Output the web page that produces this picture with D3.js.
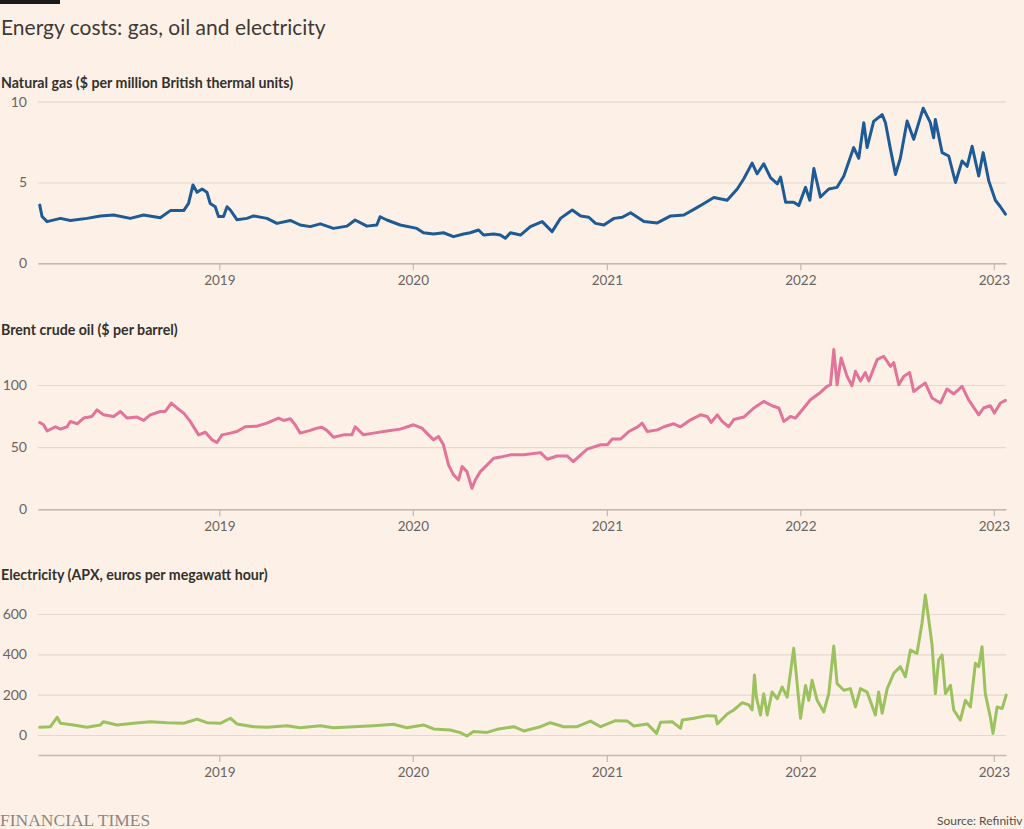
<!DOCTYPE html>
<html>
<head>
<meta charset="utf-8">
<script src="https://cdn.jsdelivr.net/npm/d3@7"></script>
<style>
  html, body { margin: 0; padding: 0; background: #fdf1e7; }
  svg { display: block; }
</style>
</head>
<body>
<svg id="chart" width="1024" height="829"></svg>
<script>
// ---------- DATA (time as decimal year, value) ----------
const title = "Energy costs: gas, oil and electricity";
const panelLabels = [
  "Natural gas ($ per million British thermal units)",
  "Brent crude oil ($ per barrel)",
  "Electricity (APX, euros per megawatt hour)"
];
const yearTicks = [2019, 2020, 2021, 2022, 2023];
const gasTicks = [0, 5, 10];
const oilTicks = [0, 50, 100];
const elecTicks = [0, 200, 400, 600];

const gasSeries = [
[2018.072,3.6],[2018.084,2.9],[2018.110,2.58],[2018.179,2.78],[2018.230,2.65],[2018.316,2.78],[2018.385,2.93],[2018.454,2.99],[2018.540,2.78],[2018.609,2.99],[2018.695,2.82],[2018.747,3.26],[2018.816,3.26],[2018.841,3.71],[2018.864,4.85],[2018.885,4.4],[2018.911,4.6],[2018.936,4.4],[2018.953,3.7],[2018.979,3.5],[2018.996,2.9],[2019.022,2.9],[2019.040,3.5],[2019.057,3.3],[2019.091,2.7],[2019.143,2.78],[2019.177,2.93],[2019.246,2.78],[2019.298,2.47],[2019.367,2.65],[2019.418,2.37],[2019.470,2.27],[2019.522,2.44],[2019.590,2.16],[2019.660,2.3],[2019.702,2.68],[2019.763,2.3],[2019.814,2.37],[2019.831,2.88],[2019.866,2.68],[2019.935,2.37],[2020.021,2.16],[2020.055,1.89],[2020.107,1.81],[2020.158,1.89],[2020.210,1.65],[2020.262,1.81],[2020.296,1.89],[2020.339,2.06],[2020.365,1.75],[2020.417,1.81],[2020.451,1.75],[2020.477,1.55],[2020.503,1.89],[2020.555,1.75],[2020.606,2.27],[2020.667,2.58],[2020.718,1.96],[2020.761,2.78],[2020.822,3.3],[2020.865,2.93],[2020.907,2.85],[2020.942,2.47],[2020.985,2.37],[2021.037,2.78],[2021.080,2.85],[2021.123,3.13],[2021.192,2.58],[2021.261,2.5],[2021.330,2.93],[2021.398,2.99],[2021.450,3.34],[2021.502,3.7],[2021.553,4.07],[2021.622,3.9],[2021.674,4.6],[2021.708,5.23],[2021.751,6.2],[2021.777,5.54],[2021.811,6.16],[2021.846,5.3],[2021.881,4.92],[2021.898,5.33],[2021.924,3.78],[2021.966,3.78],[2021.992,3.57],[2022.027,4.7],[2022.049,3.9],[2022.070,5.86],[2022.104,4.1],[2022.147,4.6],[2022.190,4.7],[2022.225,5.4],[2022.276,7.16],[2022.302,6.5],[2022.328,8.7],[2022.345,7.16],[2022.379,8.78],[2022.423,9.2],[2022.440,8.7],[2022.466,7.05],[2022.492,5.5],[2022.517,6.5],[2022.552,8.8],[2022.586,7.67],[2022.635,9.6],[2022.672,8.7],[2022.689,7.77],[2022.698,8.9],[2022.733,6.85],[2022.767,6.64],[2022.802,5.0],[2022.836,6.33],[2022.862,6.0],[2022.888,7.24],[2022.922,5.4],[2022.945,6.85],[2022.974,5.1],[2023.008,3.9],[2023.034,3.5],[2023.060,3.04]
];

const oilSeries = [
[2018.072,69.8],[2018.092,68],[2018.110,63],[2018.153,66.4],[2018.179,64.5],[2018.213,66.4],[2018.230,70.7],[2018.265,68.8],[2018.299,73.4],[2018.342,74.7],[2018.368,80],[2018.402,76],[2018.454,74.7],[2018.489,78.7],[2018.523,73.4],[2018.575,74.2],[2018.609,71.5],[2018.643,76],[2018.695,78.7],[2018.721,78.7],[2018.752,85.5],[2018.781,81.5],[2018.816,77.4],[2018.850,70.7],[2018.893,59.9],[2018.928,62],[2018.962,55.9],[2018.988,53.7],[2019.014,59.9],[2019.057,61.3],[2019.091,62.6],[2019.134,66.4],[2019.195,66.9],[2019.246,69.3],[2019.306,73.4],[2019.332,71.5],[2019.367,72.8],[2019.392,68],[2019.418,61.3],[2019.470,63.5],[2019.505,65.3],[2019.530,66],[2019.556,63.5],[2019.590,58],[2019.642,59.9],[2019.685,59.9],[2019.702,66.4],[2019.745,59.9],[2019.797,61.3],[2019.866,63],[2019.935,64.5],[2020.004,68],[2020.047,65.3],[2020.081,59.9],[2020.107,55.9],[2020.133,58.5],[2020.158,51.9],[2020.184,35.7],[2020.210,27.7],[2020.236,23.6],[2020.254,34.4],[2020.279,30.3],[2020.305,16.9],[2020.322,23.6],[2020.348,30.3],[2020.383,35.7],[2020.417,41.1],[2020.451,42],[2020.503,43.8],[2020.572,43.8],[2020.658,45.6],[2020.693,40.3],[2020.744,42.9],[2020.796,42.9],[2020.827,38.4],[2020.865,43.8],[2020.899,48.4],[2020.968,51.9],[2021.003,51.9],[2021.028,56.5],[2021.071,56.5],[2021.114,62.6],[2021.157,66.1],[2021.183,69.3],[2021.209,62.6],[2021.261,63.9],[2021.295,66.4],[2021.346,68.8],[2021.381,66.4],[2021.433,72],[2021.484,76],[2021.519,74.7],[2021.539,69.8],[2021.571,76],[2021.596,70.7],[2021.630,66.4],[2021.656,72.2],[2021.708,74.2],[2021.760,81.5],[2021.811,86.8],[2021.854,83.3],[2021.889,81.5],[2021.915,70.7],[2021.949,74.7],[2021.975,73.4],[2022.018,81.5],[2022.052,88.1],[2022.104,94],[2022.138,98.9],[2022.156,100.2],[2022.173,128.5],[2022.190,100.2],[2022.211,121.8],[2022.242,106.9],[2022.267,99.4],[2022.285,111],[2022.311,103.2],[2022.336,110],[2022.354,103.2],[2022.397,120.4],[2022.431,123.1],[2022.466,115],[2022.483,118],[2022.509,100.2],[2022.534,106.9],[2022.565,110],[2022.586,94.8],[2022.621,98.9],[2022.646,101.6],[2022.681,89.5],[2022.724,85.5],[2022.758,96.8],[2022.793,92.8],[2022.836,98.9],[2022.870,88.1],[2022.922,76],[2022.947,81.5],[2022.982,83.3],[2023.003,77.4],[2023.034,85.5],[2023.060,87.6]
];

const elecSeries = [
[2018.072,38],[2018.127,41],[2018.162,88],[2018.179,58],[2018.247,50],[2018.316,38],[2018.385,50],[2018.402,66],[2018.471,50],[2018.557,58],[2018.643,66],[2018.730,61],[2018.816,58],[2018.885,79],[2018.936,61],[2019.005,58],[2019.057,83],[2019.091,55],[2019.177,41],[2019.246,38],[2019.350,46],[2019.418,36],[2019.522,46],[2019.590,36],[2019.693,41],[2019.797,46],[2019.900,53],[2019.969,36],[2020.055,50],[2020.107,30],[2020.193,25],[2020.245,12],[2020.279,-5],[2020.313,17],[2020.383,13],[2020.434,28],[2020.520,41],[2020.572,20],[2020.658,41],[2020.709,61],[2020.778,41],[2020.847,41],[2020.916,69],[2020.968,41],[2021.045,71],[2021.106,69],[2021.140,45],[2021.209,55],[2021.257,8],[2021.278,63],[2021.338,66],[2021.381,33],[2021.390,74],[2021.450,83],[2021.519,96],[2021.562,94],[2021.571,55],[2021.622,104],[2021.656,124],[2021.700,160],[2021.734,149],[2021.751,124],[2021.763,298],[2021.773,188],[2021.794,99],[2021.811,205],[2021.829,99],[2021.854,213],[2021.881,180],[2021.906,238],[2021.932,188],[2021.966,430],[2021.992,172],[2022.001,83],[2022.027,246],[2022.044,172],[2022.061,271],[2022.087,172],[2022.121,114],[2022.147,205],[2022.173,441],[2022.190,255],[2022.225,222],[2022.259,230],[2022.285,139],[2022.311,230],[2022.345,213],[2022.388,99],[2022.405,213],[2022.423,108],[2022.449,230],[2022.483,306],[2022.517,339],[2022.543,289],[2022.569,421],[2022.603,405],[2022.629,554],[2022.646,694],[2022.664,570],[2022.681,446],[2022.698,205],[2022.715,372],[2022.733,397],[2022.750,205],[2022.776,246],[2022.793,124],[2022.827,74],[2022.853,172],[2022.879,139],[2022.905,356],[2022.922,339],[2022.939,438],[2022.956,205],[2022.982,89],[2022.996,8],[2023.017,139],[2023.043,131],[2023.064,198]
];

// ---------- HELPERS ----------
function toDate(t) {
  const y = Math.floor(t);
  const a = new Date(y, 0, 1), b = new Date(y + 1, 0, 1);
  return new Date(+a + (t - y) * (b - a));
}

const svg = d3.select("#chart");
const W = 1024, H = 829;
const sans = "Lato, 'Noto Sans', sans-serif";
svg.append("rect").attr("width", W).attr("height", H).attr("fill", "#fdf1e7");

// top black bar
svg.append("rect").attr("x", 0).attr("y", 0).attr("width", 60).attr("height", 4).attr("fill", "#1a1a1a");

svg.append("text").attr("x", 1).attr("y", 35)
  .attr("font-family", sans).attr("font-size", 21)
  .attr("fill", "#3d3936").text(title);

const x = d3.scaleTime()
  .domain([new Date(2018, 0, 24), new Date(2023, 0, 24)])
  .range([38, 1006]);

const panels = [
  { label: panelLabels[0], labelY: 88, data: gasSeries, ticks: gasTicks, dom: [0, 10], rng: [263.3, 101.7], axisY: 263.3, color: "#1e5a96" },
  { label: panelLabels[1], labelY: 335, data: oilSeries, ticks: oilTicks, dom: [0, 100], rng: [509.3, 385], axisY: 509.3, color: "#e27399" },
  { label: panelLabels[2], labelY: 580, data: elecSeries, ticks: elecTicks, dom: [0, 600], rng: [735, 614], axisY: 755, color: "#9cc260" }
];

const gridColor = "#e5d9cf";
const axisColor = "#c3b9b0";
const tickTextColor = "#6b6460";

panels.forEach(p => {
  const g = svg.append("g");
  g.append("text").attr("x", 1).attr("y", p.labelY)
    .attr("font-family", sans).attr("font-size", 14.2)
    .attr("font-weight", 700).attr("fill", "#33302e").text(p.label);

  const y = d3.scaleLinear().domain(p.dom).range(p.rng);

  // gridlines + y labels
  const ya = g.append("g").attr("transform", "translate(38,0)")
    .call(d3.axisLeft(y).tickValues(p.ticks).tickSize(-968).tickPadding(11).tickFormat(d3.format("d")));
  ya.select(".domain").remove();
  ya.selectAll(".tick line").attr("stroke", gridColor).attr("stroke-width", 1.2);
  ya.selectAll(".tick text").attr("fill", tickTextColor)
    .attr("font-family", sans).attr("font-size", 14);

  // x axis
  const xa = g.append("g").attr("transform", `translate(0,${p.axisY})`)
    .call(d3.axisBottom(x).tickValues(yearTicks.map(yy => new Date(yy, 0, 1)))
      .tickFormat(d3.timeFormat("%Y")).tickSize(7).tickSizeOuter(0).tickPadding(5));
  xa.select(".domain").attr("stroke", axisColor).attr("stroke-width", 1.5);
  xa.selectAll(".tick line").attr("stroke", axisColor).attr("stroke-width", 1.2);
  xa.selectAll(".tick text").attr("fill", tickTextColor)
    .attr("font-family", sans).attr("font-size", 13.5);

  const line = d3.line().x(d => x(toDate(d[0]))).y(d => y(d[1]));
  g.append("path").datum(p.data).attr("d", line)
    .attr("fill", "none").attr("stroke", p.color).attr("stroke-width", 3)
    .attr("stroke-linejoin", "round").attr("stroke-linecap", "round");
});

// footer
svg.append("text").attr("x", 0).attr("y", 826)
  .attr("font-family", "'Liberation Serif', 'DejaVu Serif', serif").attr("font-size", 17.5)
  .attr("fill", "#8d8782").text("FINANCIAL TIMES");
svg.append("text").attr("x", 937).attr("y", 825)
  .attr("font-family", sans).attr("font-size", 12)
  .attr("fill", "#55504c").text("Source: Refinitiv");
</script>
</body>
</html>
